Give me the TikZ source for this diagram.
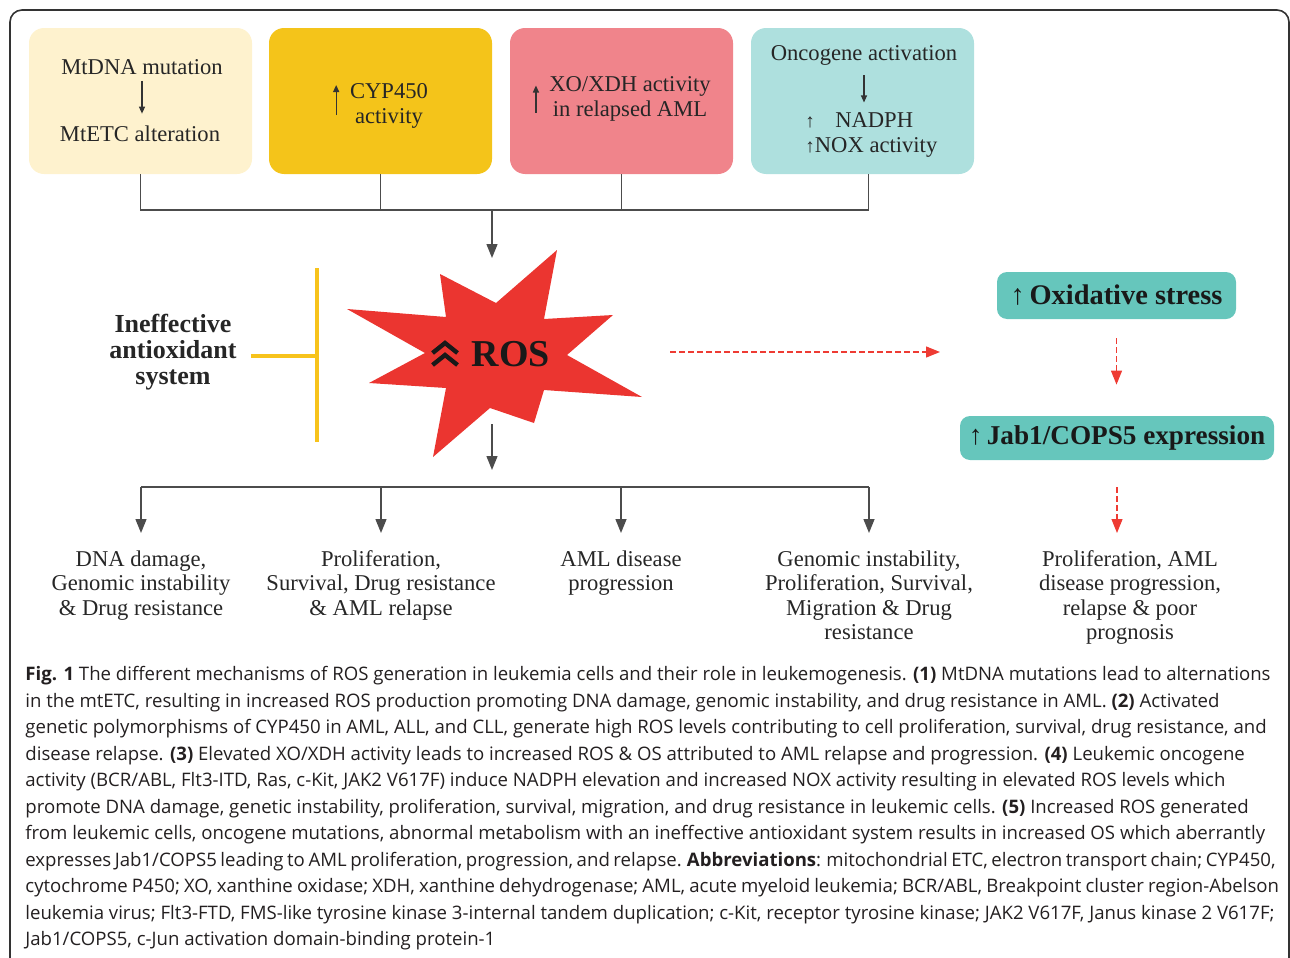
\documentclass[tikz,border=0pt]{standalone}
\usepackage{fontspec}
\setmainfont{Liberation Serif}
\newfontfamily\capfont{Open Sans}
\usetikzlibrary{arrows.meta,positioning}

\definecolor{mtcream}{HTML}{FEF2CE}
\definecolor{cypgold}{HTML}{F4C41A}
\definecolor{xopink}{HTML}{F0848B}
\definecolor{oncoteal}{HTML}{AEE0DE}
\definecolor{osteal}{HTML}{66C6BC}
\definecolor{rosred}{HTML}{EB3530}
\definecolor{bargold}{HTML}{F7C31C}
\definecolor{dashred}{HTML}{EE3B33}
\definecolor{capgray}{HTML}{231F20}

\newcommand{\smallup}{{\fontsize{9.5}{9.5}\selectfont ↑}}

\tikzset{
  srcbox/.style={rounded corners=7.5pt, minimum width=111.5pt, minimum height=73pt, inner sep=0pt},
  lbl/.style={font=\fontsize{11.3}{12.25}\selectfont, align=center, inner sep=0pt, text=black!85},
  boldlbl/.style={font=\bfseries\fontsize{13}{13}\selectfont, align=center, inner sep=0pt, text=black!85},
  osbox/.style={fill=osteal, rounded corners=5pt, inner sep=0pt, text=black!90,
    font=\bfseries\fontsize{14.2}{14.2}\selectfont},
  link/.style={draw=black!70, line width=0.7pt},
  arr/.style={link, -{Triangle[length=7pt,width=5.5pt]}},
  tinyarr/.style={draw=black!80, line width=0.6pt, -{Triangle[length=3.5pt,width=3pt]}},
  redarr/.style={draw=dashred, line width=0.6pt, dash pattern=on 3pt off 1.5pt,
    -{Triangle[length=7pt,width=5.5pt]}},
  barline/.style={draw=bargold, line width=1.7pt},
  captext/.style={font=\capfont\fontsize{9.3}{13.25}\selectfont, text=capgray, align=left, inner sep=0pt}
}

\begin{document}
\begin{tikzpicture}[x=0.5pt,y=-0.5pt]
  \useasboundingbox (0,0) rectangle (1290,958);
  % frame
  \draw[black!80, line width=0.8pt, rounded corners=6pt] (10,958) -- (10,10) -- (1289,10) -- (1289,958);

  % sources
  \node[srcbox, fill=mtcream] (b1) at (140.5,101) {};
  \node[srcbox, fill=cypgold] (b2) at (380.5,101) {};
  \node[srcbox, fill=xopink] (b3) at (621.5,101) {};
  \node[srcbox, fill=oncoteal] (b4) at (862.5,101) {};

  \node[lbl] (mtdna) at (142,67) {MtDNA mutation};
  \node[lbl] (mtetc) at (140,134) {MtETC alteration};
  \draw[tinyarr, shorten <=3pt, shorten >=6pt] (mtdna.south) -- (mtdna.south |- mtetc.north);

  \node[lbl] (cyp) at (389,106) {CYP450\\activity};
  \draw[tinyarr] ([xshift=-6.75pt,yshift=-4.5pt]cyp.west) -- ([xshift=-6.75pt,yshift=10.5pt]cyp.west);

  \node[lbl] (xo) at (630,99) {XO/XDH activity\\in relapsed AML};
  \draw[tinyarr] ([xshift=-6.5pt,yshift=-6.75pt]xo.west) -- ([xshift=-6.5pt,yshift=6.75pt]xo.west);

  \node[lbl] (onco) at (864,55) {Oncogene activation};
  \node[lbl, align=left, anchor=west] (nadph) at (805,135) {\smallup\hspace{0.9em}NADPH\\\smallup NOX activity};
  \draw[tinyarr, shorten <=5pt, shorten >=5pt] (onco.south) -- (onco.south |- nadph.north);

  % into ROS
  \coordinate (hub) at (492,210);
  \draw[link] (b1.south) |- (hub) -| ([xshift=3pt]b4.south);
  \draw[link] (b2.south) -- (b2.south |- hub);
  \draw[link] (b3.south) -- (b3.south |- hub);
  \coordinate (rostop) at (492,258);
  \draw[arr] (hub) -- (rostop);

  % ROS burst
  \fill[rosred] (440,274) -- (496,303) -- (557,250) -- (544,319) -- (613,315) -- (567,355)
    -- (642,397) -- (544,390) -- (534,423) -- (490,408) -- (433,457) -- (446,388)
    -- (369,383) -- (425,353) -- (347,309) -- (446,317) -- cycle;
  \node[font=\bfseries\fontsize{19}{19}\selectfont, inner sep=0pt, text=black!90] (ros) at (511,354) {ROS};
  \draw[line width=2.2pt, black!90] ([shift={(-39,-1)}]ros.west) -- ([shift={(-26.5,-11)}]ros.west) -- ([shift={(-14,-1)}]ros.west);
  \draw[line width=2.2pt, black!90] ([shift={(-39,11)}]ros.west) -- ([shift={(-26.5,1)}]ros.west) -- ([shift={(-14,11)}]ros.west);

  % antioxidant block
  \node[boldlbl] (anti) at (173,352) {Ineffective\\antioxidant\\system};
  \coordinate (bartop) at (317,268);
  \coordinate (barbot) at (317,442);
  \draw[barline] (bartop) -- (barbot);
  \draw[barline, shorten <=7pt] ([yshift=-2pt]anti.east) -- ([yshift=-2pt]anti.east -| bartop);

  % outcomes
  \coordinate (rosbot) at (492,424);
  \coordinate (rosout) at (492,470);
  \draw[arr] (rosbot) -- (rosout);
  \coordinate (split) at (492,487);

  \node[lbl, anchor=north] (o1) at (141,550) {DNA damage,\\Genomic instability\\\& Drug resistance};
  \node[lbl, anchor=north] (o2) at (381,550) {Proliferation,\\Survival, Drug resistance\\\& AML relapse};
  \node[lbl, anchor=north] (o3) at (621,550) {AML disease\\progression};
  \node[lbl, anchor=north] (o4) at (869,550) {Genomic instability,\\Proliferation, Survival,\\Migration \& Drug\\resistance};
  \draw[link] (o1.north |- split) -- (o4.north |- split);
  \foreach \o in {o1,o2,o3,o4}
    \draw[arr] (\o.north |- split) -- ([yshift=8.5pt]\o.north);

  % oxidative stress branch
  \node[osbox, minimum width=119.5pt, minimum height=23.5pt] (ox) at (1116.5,295.5) {↑\,Oxidative stress};
  \node[osbox, minimum width=157pt, minimum height=22pt, font=\bfseries\fontsize{13.6}{13.6}\selectfont] (jab) at (1117,438) {↑\,Jab1/COPS5 expression};
  \node[lbl, anchor=north] (o5) at (1130,550) {Proliferation, AML\\disease progression,\\relapse \& poor\\prognosis};
  \coordinate (rosright) at (670,352);
  \coordinate (oxin) at (940,352);
  \draw[redarr] (rosright) -- (oxin);
  \draw[redarr, shorten <=9.5pt, shorten >=15.5pt] (ox.south) -- (ox.south |- jab.north);
  \draw[redarr, shorten <=13.5pt, shorten >=8.5pt] (jab.south) -- (jab.south |- o5.north);

  % caption
  \node[captext, anchor=north west] (cap) at (25,666) {%
    \textbf{Fig. 1} The different mechanisms of ROS generation in leukemia cells and their role in leukemogenesis. \textbf{(1)} MtDNA mutations lead to alternations\\
    in the mtETC, resulting in increased ROS production promoting DNA damage, genomic instability, and drug resistance in AML. \textbf{(2)} Activated\\
    genetic polymorphisms of CYP450 in AML, ALL, and CLL, generate high ROS levels contributing to cell proliferation, survival, drug resistance, and\\
    disease relapse. \textbf{(3)} Elevated XO/XDH activity leads to increased ROS \& OS attributed to AML relapse and progression. \textbf{(4)} Leukemic oncogene\\
    activity (BCR/ABL, Flt3-ITD, Ras, c-Kit, JAK2 V617F) induce NADPH elevation and increased NOX activity resulting in elevated ROS levels which\\
    promote DNA damage, genetic instability, proliferation, survival, migration, and drug resistance in leukemic cells. \textbf{(5)} Increased ROS generated\\
    from leukemic cells, oncogene mutations, abnormal metabolism with an ineffective antioxidant system results in increased OS which aberrantly\\
    {\spaceskip=0.19em\relax expresses Jab1/COPS5 leading to AML proliferation, progression, and relapse. \textbf{Abbreviations}: mitochondrial ETC, electron transport chain; CYP450,}\\
    {\spaceskip=0.22em\relax cytochrome P450; XO, xanthine oxidase; XDH, xanthine dehydrogenase; AML, acute myeloid leukemia; BCR/ABL, Breakpoint cluster region-Abelson}\\
    leukemia virus; Flt3-FTD, FMS-like tyrosine kinase 3-internal tandem duplication; c-Kit, receptor tyrosine kinase; JAK2 V617F, Janus kinase 2 V617F;\\
    Jab1/COPS5, c-Jun activation domain-binding protein-1};
\end{tikzpicture}
\end{document}
